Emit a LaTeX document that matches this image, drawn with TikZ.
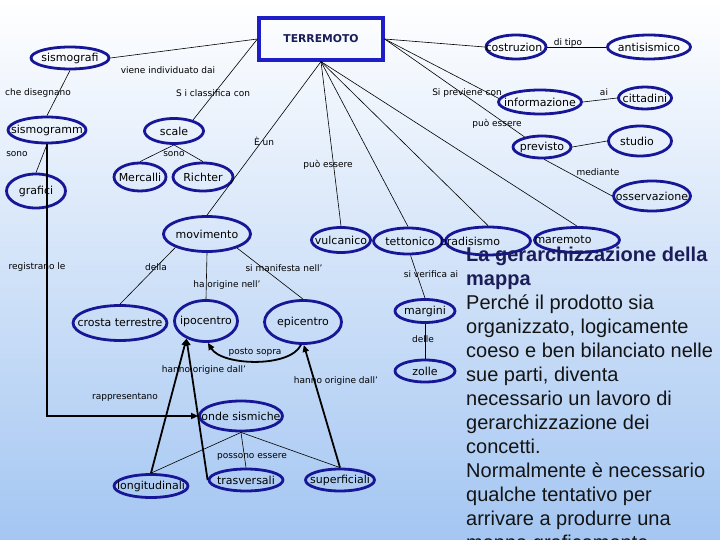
\documentclass[tikz,border=0pt]{standalone}
\usepackage{fontspec}
\setmainfont{DejaVu Sans}
\newfontfamily\arialfont{Liberation Sans}
\usetikzlibrary{shapes.geometric,arrows.meta}
\definecolor{ebl}{RGB}{22,22,150}
\definecolor{bbl}{RGB}{30,30,200}
\definecolor{hd}{RGB}{28,28,90}
\definecolor{bgm}{RGB}{214,229,249}
\definecolor{bgb}{RGB}{164,198,242}
\newcommand{\ct}[2][0pt]{\makebox[0pt]{\hspace*{#1}#2}}
\begin{document}
\begin{tikzpicture}[x=1pt,y=-1pt,
  ell/.style={ellipse,draw=ebl,line width=2.8pt,inner sep=0pt,font=\fontsize{11}{13}\selectfont},
  tbox/.style={rectangle,draw=bbl,line width=3.2pt,inner sep=0pt,minimum width=124pt,minimum height=42pt,font=\bfseries\fontsize{10.8}{13}\selectfont,text=hd},
  lab/.style={inner sep=0pt,font=\fontsize{9}{10}\selectfont},
  thinl/.style={line width=0.6pt},
  thickl/.style={line width=1.8pt},
  tip/.style={-{Triangle[length=7pt,width=6pt]}},
  body/.style={anchor=base west,inner sep=0pt,font=\arialfont\fontsize{20}{24}\selectfont,text=black!92},
  head/.style={anchor=base west,inner sep=0pt,font=\arialfont\bfseries\fontsize{20}{24}\selectfont,text=hd}]
\clip (0,0) rectangle (720,540);
\shade[top color=white,middle color=bgm,bottom color=bgb] (0,0) rectangle (720,540);

% nodes
\node[tbox] (T) at (321,39) {TERREMOTO};
\node[ell,minimum width=78pt,minimum height=22pt] (sg) at (70,58) {\ct{sismografi}};
\node[ell,minimum width=78pt,minimum height=26pt] (sgm) at (47,130) {\ct{sismogramm}};
\node[ell,minimum width=59pt,minimum height=25pt] (sc) at (174,131) {\ct{scale}};
\node[ell,minimum width=59pt,minimum height=34pt] (gr) at (36,191) {\ct{grafici}};
\node[ell,minimum width=52pt,minimum height=28pt] (me) at (140,177) {\ct{Mercalli}};
\node[ell,minimum width=60pt,minimum height=28pt] (ri) at (203,177) {\ct{Richter}};
\node[ell,minimum width=87pt,minimum height=35pt] (mo) at (207,234) {\ct{movimento}};
\node[ell,minimum width=59pt,minimum height=25pt] (vu) at (341,240) {\ct{vulcanico}};
\node[ell,minimum width=69pt,minimum height=26pt] (te) at (408,241) {\ct[4pt]{\raisebox{-2pt}{tettonico}}};
\node[ell,minimum width=85pt,minimum height=28pt] (br) at (488,241) {\ct[-36pt]{bradisismo}};
\node[ell,minimum width=85pt,minimum height=25pt] (ma) at (577,240) {\ct[-28pt]{\raisebox{-5pt}{maremoto}}};
\node[ell,minimum width=94pt,minimum height=35pt] (cr) at (120,323) {\ct{crosta terrestre}};
\node[ell,minimum width=63pt,minimum height=41pt] (ip) at (206,321) {\ct{ipocentro}};
\node[ell,minimum width=77pt,minimum height=43pt] (ep) at (303,322) {\ct{epicentro}};
\node[ell,minimum width=60pt,minimum height=23pt] (mg) at (425,311) {\ct{margini}};
\node[ell,minimum width=60pt,minimum height=22pt] (zo) at (425,371) {\ct{zolle}};
\node[ell,minimum width=83pt,minimum height=30pt] (on) at (241,416) {\ct{onde sismiche}};
\node[ell,minimum width=74pt,minimum height=23pt] (lo) at (151,486) {\ct{longitudinali}};
\node[ell,minimum width=74pt,minimum height=22pt] (tr) at (246,480) {\ct{trasversali}};
\node[ell,minimum width=69pt,minimum height=22pt] (su) at (340,480) {\ct{superficiali}};
\node[ell,minimum width=60pt,minimum height=24pt] (co) at (516,47) {\ct[-4pt]{costruzion}};
\node[ell,minimum width=83pt,minimum height=24pt] (an) at (649,47) {\ct{antisismico}};
\node[ell,minimum width=83pt,minimum height=24pt] (inf) at (540,102) {\ct{informazione}};
\node[ell,minimum width=53pt,minimum height=22pt] (ci) at (645,98) {\ct{cittadini}};
\node[ell,minimum width=58pt,minimum height=22pt] (pr) at (542,147) {\ct{previsto}};
\node[ell,minimum width=63pt,minimum height=30pt] (st) at (640,141) {\ct[-6pt]{studio}};
\node[ell,minimum width=77pt,minimum height=30pt] (os) at (652,196) {\ct{osservazione}};

% thin connectors
\draw[thinl] (T.west) -- (sg.east);
\draw[thinl] (T.west) -- (sc.30);
\draw[thinl] (sg.south) -- (sgm.north);
\draw[thinl] (sgm.south) -- (gr.north);
\draw[thinl] (sc.south) -- (me.north);
\draw[thinl] (sc.south) -- (ri.north);
\draw[thinl] (T.south) -- (mo.north);
\draw[thinl] (T.south) -- (vu.north);
\draw[thinl] (T.south) -- (te.north);
\draw[thinl] (T.south) -- (br.north);
\draw[thinl] (T.south) -- (ma.north);
\draw[thinl] (T.east) -- (co.west);
\draw[thinl] (T.east) -- (inf.175);
\draw[thinl] (T.east) -- (pr.150);
\draw[thinl] (co.east) -- (an.west);
\draw[thinl] (inf.east) -- (ci.west);
\draw[thinl] (pr.east) -- (st.west);
\draw[thinl] (pr.-80) -- (os.west);
\draw[thinl] (mo.203) -- (cr.north);
\draw[thinl] (mo.south) -- (ip.north);
\draw[thinl] (mo.-25) -- (ep.north);
\draw[thinl] (te.-80) -- (mg.north);
\draw[thinl] (mg.south) -- (zo.north);
\draw[thinl] (on.south) -- (lo.north);
\draw[thinl] (on.south) -- (tr.north);
\draw[thinl] (on.south) -- (su.north);

% thick arrows
\draw[thickl,tip] (sgm.south) |- (on.west);
\draw[thickl,tip] (lo.north) -- (ip.222);
\draw[thickl,tip] (tr.west) -- (ip.222);
\draw[thickl,tip] (su.north) -- (ep.-88);
\draw[thickl,tip] (ep.-95) .. controls (290,368) and (222,366) .. (ip.-85);

% labels
\node[lab] (l1) at (168,70) {viene individuato dai};
\node[lab] (l2) at (38,93) {che disegnano};
\node[lab] (l3) at (213,93) {S i classifica con};
\node[lab] (l4) at (467,93) {Si previene con};
\node[lab] (l5) at (568,43) {di tipo};
\node[lab] (l6) at (604,92) {ai};
\node[lab] (l7) at (497,124) {può essere};
\node[lab] (l8) at (264,141) {È un};
\node[lab] (l9) at (17,154) {sono};
\node[lab] (l10) at (174,154) {sono};
\node[lab] (l11) at (328,165) {può essere};
\node[lab] (l12) at (598,172) {mediante};
\node[lab] (l13) at (37,267) {registrano le};
\node[lab] (l14) at (156,267) {della};
\node[lab] (l15) at (284,268) {si manifesta nell'};
\node[lab] (l16) at (227,285) {ha origine nell'};
\node[lab] (l17) at (431,274) {si verifica ai};
\node[lab] (l18) at (423,339) {delle};
\node[lab] (l19) at (255,352) {posto sopra};
\node[lab] (l20) at (204,370) {hanno origine dall'};
\node[lab] (l21) at (336,381) {hanno origine dall'};
\node[lab] (l22) at (125,397) {rappresentano};
\node[lab] (l23) at (252,457) {possono essere};

% right text
\node[head] (t0) at (466,261) {La gerarchizzazione della};
\node[head] (t1) at (466,285) {mappa};
\node[body] (t2) at (466,309) {Perché il prodotto sia};
\node[body] (t3) at (466,333) {organizzato, logicamente};
\node[body] (t4) at (466,357) {coeso e ben bilanciato nelle};
\node[body] (t5) at (466,381) {sue parti, diventa};
\node[body] (t6) at (466,405) {necessario un lavoro di};
\node[body] (t7) at (466,429) {gerarchizzazione dei};
\node[body] (t8) at (466,453) {concetti.};
\node[body] (t9) at (466,477) {Normalmente è necessario};
\node[body] (t10) at (466,501) {qualche tentativo per};
\node[body] (t11) at (466,525) {arrivare a produrre una};
\node[body] (t12) at (466,549) {mappa graficamente};
\end{tikzpicture}
\end{document}
